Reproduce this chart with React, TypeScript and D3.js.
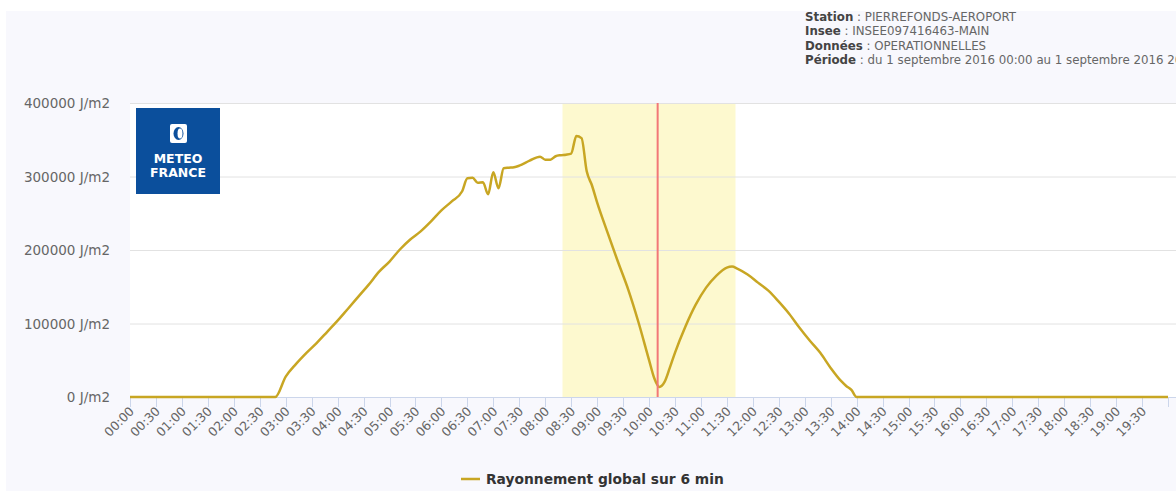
import { useEffect, useRef } from 'react'
import * as d3 from 'd3'

// 6-minute global radiation readings, PIERREFONDS-AEROPORT, 1 Sept 2016
const times = [
  '00:00', '02:48', '03:00', '03:12', '03:24', '03:36', '03:48', '04:00', '04:12', '04:24',
  '04:36', '04:48', '05:00', '05:12', '05:24', '05:36', '05:48', '06:00', '06:12', '06:24',
  '06:30', '06:36', '06:42', '06:48', '06:54', '07:00', '07:06', '07:12', '07:18', '07:24',
  '07:30', '07:42', '07:54', '08:00', '08:06', '08:12', '08:18', '08:24', '08:30', '08:36',
  '08:42', '08:48', '08:54', '09:00', '09:12', '09:24', '09:36', '09:48', '10:00', '10:06',
  '10:12', '10:18', '10:24', '10:30', '10:42', '10:54', '11:06', '11:18', '11:30', '11:36',
  '11:42', '11:54', '12:06', '12:18', '12:30', '12:42', '12:54', '13:06', '13:18', '13:30',
  '13:42', '13:48', '13:54', '14:00', '20:00',
]
const values = [
  0, 0, 27700, 45000, 60000, 73700, 88700, 103800, 120100, 136500,
  152900, 170600, 184300, 200700, 214300, 225300, 238900, 253900, 266200, 279900,
  297600, 298300, 291500, 292200, 275800, 305800, 284000, 311300, 312000, 312600,
  314700, 321500, 327000, 322900, 322900, 327600, 329000, 329700, 331100, 355000,
  352200, 307000, 288100, 264800, 223900, 184300, 146100, 101000, 50500, 25900,
  13700, 20500, 39600, 60100, 95600, 125600, 148800, 165200, 176100, 177500,
  174700, 166600, 155600, 144700, 129700, 113300, 94200, 76500, 60100, 39600,
  21800, 15000, 9600, 0, 0,
]
const yTicks = [0, 100000, 200000, 300000, 400000]
const bandRange = ['08:20', '11:40']
const markerTime = '10:10'
const header = [
  ['Station', 'PIERREFONDS-AEROPORT'],
  ['Insee', 'INSEE097416463-MAIN'],
  ['Données', 'OPERATIONNELLES'],
  ['Période', 'du 1 septembre 2016 00:00 au 1 septembre 2016 20:00'],
]
const seriesName = 'Rayonnement global sur 6 min'

const toMin = (s: string) => {
  const [h, m] = s.split(':').map(Number)
  return h * 60 + m
}
const fmt = (m: number) => `${String(Math.floor(m / 60)).padStart(2, '0')}:${String(m % 60).padStart(2, '0')}`

export default function App() {
  const svgRef = useRef<SVGSVGElement>(null)

  useEffect(() => {
    if (!svgRef.current) return
    document.body.style.margin = '0'
    const svg = d3.select(svgRef.current)
    svg.selectAll('*').remove()

    const width = 1176
    const height = 491
    const font = 'DejaVu Sans, sans-serif'
    svg.attr('width', width).attr('height', height).style('font-family', font)

    svg.append('rect').attr('width', width).attr('height', height).attr('fill', '#ffffff')
    svg.append('rect').attr('x', 6).attr('y', 11).attr('width', width).attr('height', height).attr('fill', '#f8f8fd')

    const x = d3.scaleLinear().domain([0, 1200]).range([130, 1168])
    const y = d3.scaleLinear().domain([0, 400000]).range([397, 103])

    // plot background
    svg.append('rect')
      .attr('x', x(0)).attr('y', y(400000))
      .attr('width', width - x(0)).attr('height', y(0) - y(400000))
      .attr('fill', '#ffffff')

    // highlighted band
    svg.append('rect')
      .attr('x', x(toMin(bandRange[0]))).attr('y', y(400000))
      .attr('width', x(toMin(bandRange[1])) - x(toMin(bandRange[0])))
      .attr('height', y(0) - y(400000))
      .attr('fill', '#fdf9cf')

    // grid
    svg.append('g').selectAll('line').data(yTicks.slice(1)).join('line')
      .attr('x1', x(0)).attr('x2', width)
      .attr('y1', d => y(d) + 0.5).attr('y2', d => y(d) + 0.5)
      .attr('stroke', '#e2e2e2').attr('stroke-width', 1)

    svg.append('g').selectAll('text').data(yTicks).join('text')
      .attr('x', 110).attr('y', d => y(d) + 5)
      .attr('text-anchor', 'end')
      .attr('font-size', 13.5).attr('fill', '#666666')
      .text(d => `${d} J/m2`)

    // x axis
    const xTicks = d3.range(0, 1201, 30)
    const xa = svg.append('g')
    xa.append('line')
      .attr('x1', x(0)).attr('x2', width)
      .attr('y1', y(0) + 0.5).attr('y2', y(0) + 0.5)
      .attr('stroke', '#ccd6eb')
    xa.selectAll('line.tick').data(xTicks).join('line')
      .attr('class', 'tick')
      .attr('x1', d => Math.round(x(d)) + 0.5).attr('x2', d => Math.round(x(d)) + 0.5)
      .attr('y1', y(0)).attr('y2', y(0) + 10)
      .attr('stroke', '#ccd6eb')
    xa.selectAll('text').data(xTicks.slice(0, -1)).join('text')
      .attr('transform', d => `translate(${x(d) + 5},${y(0) + 15}) rotate(-45)`)
      .attr('text-anchor', 'end')
      .attr('font-size', 12.5).attr('fill', '#666666')
      .text(d => fmt(d))

    // series
    const pts = times.map((t, i) => [toMin(t), values[i]] as [number, number])
    const line = d3.line<[number, number]>()
      .x(d => x(d[0])).y(d => y(d[1]))
      .curve(d3.curveMonotoneX)
    svg.append('path').datum(pts)
      .attr('fill', 'none').attr('stroke', '#c8a623')
      .attr('stroke-width', 2.5).attr('stroke-linejoin', 'round')
      .attr('d', line)

    // marker line
    svg.append('line')
      .attr('x1', x(toMin(markerTime))).attr('x2', x(toMin(markerTime)))
      .attr('y1', y(400000)).attr('y2', y(0))
      .attr('stroke', '#f27878').attr('stroke-width', 2)

    // logo
    const logo = svg.append('g').attr('transform', 'translate(136,108)')
    logo.append('rect').attr('width', 84).attr('height', 86).attr('fill', '#0b4f9c')
    logo.append('rect').attr('x', 34).attr('y', 16).attr('width', 17).attr('height', 19).attr('rx', 2).attr('fill', '#ffffff')
    logo.append('ellipse').attr('cx', 42.5).attr('cy', 25.5).attr('rx', 5).attr('ry', 6.5).attr('fill', '#0b4f9c')
    logo.append('ellipse').attr('cx', 44).attr('cy', 25.5).attr('rx', 2.5).attr('ry', 5).attr('fill', '#ffffff')
    logo.append('text').attr('x', 42).attr('y', 55).attr('text-anchor', 'middle')
      .attr('font-size', 12.5).attr('font-weight', 'bold').attr('fill', '#ffffff').text('METEO')
    logo.append('text').attr('x', 42).attr('y', 69).attr('text-anchor', 'middle')
      .attr('font-size', 12.5).attr('font-weight', 'bold').attr('fill', '#ffffff').text('FRANCE')

    // header
    const hd = svg.append('g')
    header.forEach(([k, v], i) => {
      const t = hd.append('text').attr('x', 805).attr('y', 21 + i * 14.3)
        .attr('font-size', 11.8).attr('fill', '#444444')
      t.append('tspan').attr('font-weight', 'bold').text(k)
      t.append('tspan').attr('fill', '#666666').text(` : ${v}`)
    })

    // legend
    svg.append('line').attr('x1', 461).attr('x2', 480).attr('y1', 479).attr('y2', 479)
      .attr('stroke', '#c8a623').attr('stroke-width', 2.5)
    svg.append('text').attr('x', 486).attr('y', 484)
      .attr('font-size', 13.8).attr('font-weight', 'bold').attr('fill', '#333333')
      .text(seriesName)
  }, [])

  return <svg ref={svgRef} style={{ display: 'block' }} />
}
